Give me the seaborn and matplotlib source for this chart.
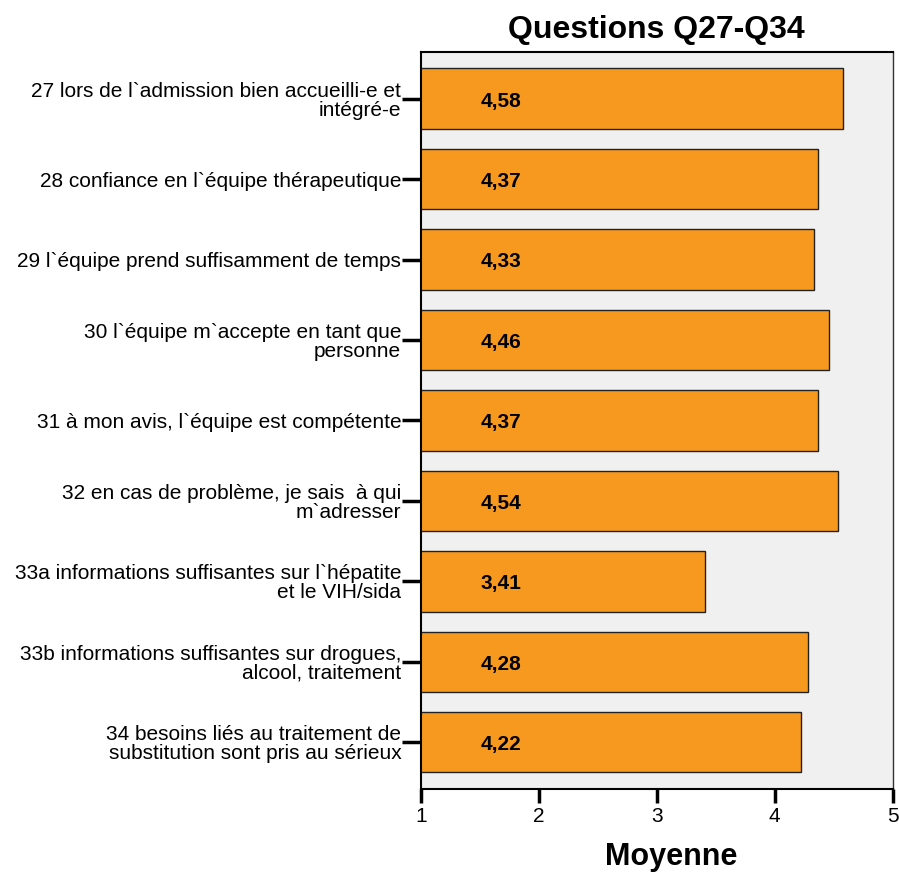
import pandas as pd
import matplotlib.pyplot as plt
import seaborn as sns

questions = [
    "27 lors de l`admission bien accueilli-e et\nintégré-e",
    "28 confiance en l`équipe thérapeutique",
    "29 l`équipe prend suffisamment de temps",
    "30 l`équipe m`accepte en tant que\npersonne",
    "31 à mon avis, l`équipe est compétente",
    "32 en cas de problème, je sais  à qui\nm`adresser",
    "33a informations suffisantes sur l`hépatite\net le VIH/sida",
    "33b informations suffisantes sur drogues,\nalcool, traitement",
    "34 besoins liés au traitement de\nsubstitution sont pris au sérieux",
]
moyennes = [4.58, 4.37, 4.33, 4.46, 4.37, 4.54, 3.41, 4.28, 4.22]
x_ticks = [1, 2, 3, 4, 5]

df = pd.DataFrame({"question": questions, "moyenne": moyennes})

sns.set_style("ticks")
plt.rcParams['font.family'] = ['Liberation Sans', 'DejaVu Sans']
plt.rcParams['text.color'] = 'black'
plt.rcParams['axes.labelcolor'] = 'black'
plt.rcParams['xtick.color'] = 'black'
plt.rcParams['ytick.color'] = 'black'

fig = plt.figure(figsize=(8.99, 8.72), dpi=100)
ax = fig.add_axes([0.468, 0.0952, 0.525, 0.8452])
ax.set_facecolor("#F0F0F0")

sns.barplot(data=df, x="moyenne", y="question", order=questions,
            color="#F7991F", saturation=1, edgecolor="#222222", linewidth=1,
            width=0.75, ax=ax)

for i, v in enumerate(moyennes):
    ax.text(1.51, i + 0.03, f"{v:.2f}".replace(".", ","), va="center", ha="left",
            fontsize=15, fontweight="bold", color="black")

ax.set_xlim(1, 5)
ax.set_ylim(len(questions) - 0.42, -0.58)
ax.set_xticks(x_ticks)
ax.set_xticklabels([str(t) for t in x_ticks], fontsize=15)
ax.tick_params(axis="y", labelsize=15, length=14, width=2.5, pad=0)
ax.tick_params(axis="x", length=10, width=2.5, pad=3)
for lbl in ax.get_yticklabels():
    lbl.set_horizontalalignment("right")
    lbl.set_multialignment("right")
    lbl.set_linespacing(1.0)

for side in ["left", "bottom", "top"]:
    ax.spines[side].set_visible(True)
    ax.spines[side].set_color("black")
    ax.spines[side].set_linewidth(1.5)
ax.spines["right"].set_visible(True)
ax.spines["right"].set_color("#333333")
ax.spines["right"].set_linewidth(1)

ax.set_ylabel("")
ax.set_xlabel("Moyenne", fontsize=22, fontweight="bold")
ax.xaxis.set_label_coords(0.53, -0.072)
ax.set_title("Questions Q27-Q34", fontsize=23, fontweight="bold", pad=10)

plt.savefig("out.png", dpi=100)
